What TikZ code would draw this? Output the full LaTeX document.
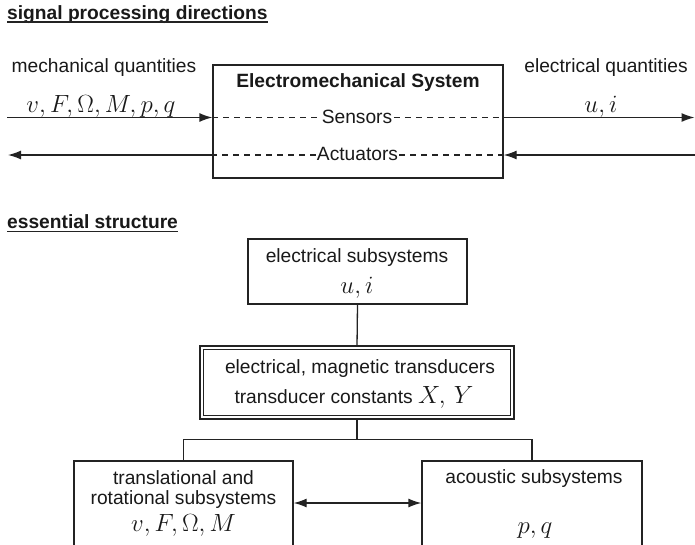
\documentclass[tikz,border=0pt]{standalone}
\usepackage[no-math]{fontspec}
\setmainfont{Liberation Sans}
\usetikzlibrary{arrows.meta}

\definecolor{linec}{RGB}{35,35,35}
\definecolor{txtc}{RGB}{25,25,25}

% math symbols set larger than the sans text
\newcommand\mq[1]{{\fontsize{24.88}{28}\selectfont$#1$}}

\tikzset{
  ln/.style={draw=linec, line width=1.3pt},
  txt/.style={inner sep=0pt, font=\fontsize{19.2}{23}\selectfont, text=txtc},
  hdr/.style={txt, font=\fontsize{19.2}{23}\selectfont\bfseries, anchor=base west},
  box/.style={ln, rectangle, inner sep=0pt},
  dsh/.style={ln, dash pattern=on 6pt off 5pt},
  arr/.style={ln, -{Latex[length=13pt,width=9pt]}},
  biarr/.style={ln, {Latex[length=13pt,width=9pt]}-{Latex[length=13pt,width=9pt]}},
}

\begin{document}
\begin{tikzpicture}[x=1pt,y=-1pt]
\useasboundingbox (0,0) rectangle (695,544);
\clip (0,0) rectangle (695,544);
\fill[white] (0,0) rectangle (695,544);

% ---------- signal processing directions ----------
\node[hdr] (h1) at (7,19) {signal processing directions};
\draw[line width=1.6pt, linec] ([yshift=-3pt]h1.base west) -- ([yshift=-3pt]h1.base east);

\node[box, minimum width=290pt, minimum height=113pt] (ems) at (358,121.5) {};
\node[txt, font=\fontsize{19.2}{23}\selectfont\bfseries, anchor=base] (emst) at (358,87) {Electromechanical System};
\node[txt, anchor=base, inner xsep=1.5pt] (sens) at (357,123) {Sensors};
\node[txt, anchor=base, inner xsep=1pt] (act) at (357.5,160.5) {Actuators};

\node[txt, anchor=base] (mq) at (104,72.5) {mechanical quantities};
\node[txt, anchor=base] (eq) at (606,72.5) {electrical quantities};
\node[txt, anchor=base] (mv) at (101,112.5) {\mq{v,F,\Omega,M,p,q}};
\node[txt, anchor=base] (ev) at (601,112) {\mq{u,i}};

% free ends of the signal arrows
\coordinate (mIn)  at (7,117.5);
\coordinate (eOut) at (694.5,117.5);
\coordinate (mOut) at (8,155);
\coordinate (eIn)  at (695,155);

% sensor path: mechanical in, electrical out
\draw[arr] (mIn) -- (ems.west |- mIn);
\draw[dsh] (ems.west |- mIn) -- (sens.west |- mIn);
\draw[dsh] (sens.east |- mIn) -- (ems.east |- mIn);
\draw[arr] (ems.east |- eOut) -- (eOut);

% actuator path: electrical in, mechanical out
\draw[arr] (eIn) -- (ems.east |- eIn);
\draw[dsh] (ems.east |- eIn) -- (act.east |- eIn);
\draw[dsh] (act.west |- eIn) -- (ems.west |- eIn);
\draw[arr] (ems.west |- mOut) -- (mOut);

% ---------- essential structure ----------
\node[hdr] (h2) at (7,228.5) {essential structure};
\draw[line width=1.6pt, linec] ([yshift=-3pt]h2.base west) -- ([yshift=-3pt]h2.base east);

\node[box, minimum width=219pt, minimum height=65pt] (es) at (357.5,271.5) {};
\node[txt, anchor=base] (est) at (357,262) {electrical subsystems};
\node[txt, anchor=base] (esv) at (357,293) {\mq{u,i}};

\node[box, double=white, double distance=2pt, minimum width=310.7pt, minimum height=69.7pt] (tr) at (357,382.5) {};
\node[txt, anchor=base] (trt) at (360,373) {electrical, magnetic transducers};
\node[txt, anchor=base] (trv) at (354,403) {transducer constants \mq{X,\,Y}};

\node[box, minimum width=219pt, minimum height=110pt] (tl) at (183.5,516) {};
\node[txt, anchor=base] (tlt1) at (183.5,484) {translational and};
\node[txt, anchor=base] (tlt2) at (183.5,504) {rotational subsystems};
\node[txt, anchor=base] (tlv) at (183.5,531.5) {\mq{v,F,\Omega,M}};

\node[box, minimum width=220pt, minimum height=110pt] (ac) at (532,516) {};
\node[txt, anchor=base] (act1) at (534,483) {acoustic subsystems};
\node[txt, anchor=base] (acv) at (535,533) {\mq{p,q}};

% tree connectors
\coordinate (br) at (357,439.5);
\draw[ln, shorten >=1.6pt] (es.south) -- (tr.north);
\draw[ln, shorten <=1.6pt] (tr.south) -- (br);
\draw[ln] (tl.north) -- (tl.north |- br) -- (ac.north |- br) -- (ac.north);

% coupling between mechanical and acoustic subsystems
\draw[biarr] (tl.east |- 0,503) -- (ac.west |- 0,503);
\end{tikzpicture}
\end{document}
